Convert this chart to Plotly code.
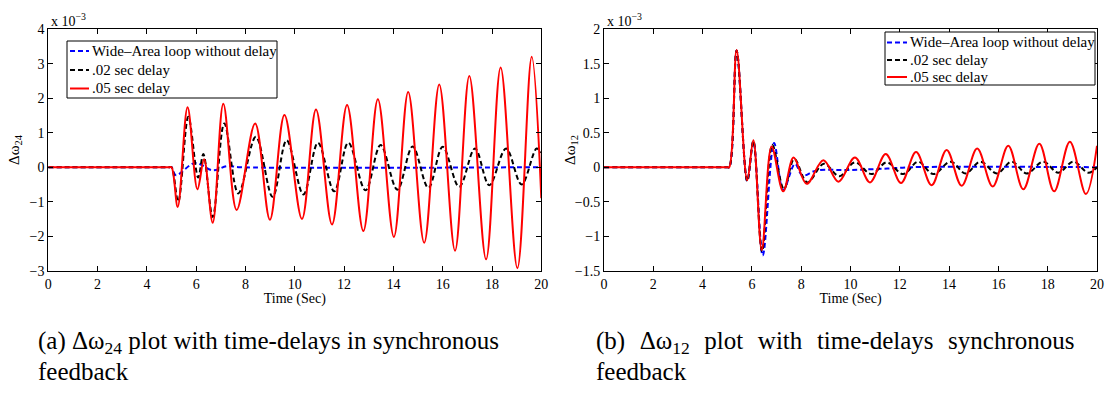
import plotly.graph_objects as go

# ---------------- data (values in units of 1e-3) ----------------
# (a) delta omega 24
t_nodelay_a = [0, 4.9, 5.0, 5.17, 5.95, 6.68, 7.25, 7.8, 20]
w_nodelay_a = [0, 0, 0, -0.23, 0.12, -0.09, 0.03, 0.0, 0.0]

t_d02_a = [0, 4.9, 5.0, 5.27, 5.68, 6.08, 6.29, 6.67, 7.14, 7.71, 8.42, 9.10, 9.67,
           10.35, 10.94, 11.6, 12.17, 12.87, 13.48, 14.16, 14.78, 15.42, 16.0,
           16.67, 17.31, 17.89, 18.57, 19.2, 19.81, 20]
w_d02_a = [0, 0, 0, -1.0, 1.46, -0.3, 0.38, -1.44, 1.27, -0.76, 0.88, -0.86, 0.78,
           -0.79, 0.71, -0.70, 0.71, -0.67, 0.64, -0.65, 0.60, -0.60, 0.59,
           -0.57, 0.54, -0.52, 0.54, -0.50, 0.54, 0.42]

t_d05_a = [0, 4.9, 5.0, 5.25, 5.65, 6.05, 6.32, 6.67, 7.1, 7.64, 8.39, 8.99, 9.58,
           10.29, 10.86, 11.51, 12.12, 12.78, 13.37, 14.02, 14.6, 15.25, 15.86,
           16.5, 17.08, 17.76, 18.35, 19.03, 19.61, 20]
w_d05_a = [0, 0, 0, -1.15, 1.74, -0.64, 0.23, -1.61, 1.84, -1.24, 1.27, -1.52, 1.51,
           -1.5, 1.67, -1.66, 1.80, -1.85, 1.97, -2.02, 2.18, -2.19, 2.40,
           -2.42, 2.64, -2.67, 2.89, -2.93, 3.20, -0.90]

# (b) delta omega 12
t_nodelay_b = [0, 4.98, 5.08, 5.38, 5.81, 6.06, 6.44, 6.90, 7.27, 7.75, 8.05, 8.6,
               10.0, 11.5, 12.5, 20]
w_nodelay_b = [0, 0, 0, 1.69, -0.2, 0.37, -1.28, 0.35, -0.33, 0.05, -0.12, -0.05,
               -0.04, -0.02, 0.0, 0.0]

t_d02_b = [0, 4.98, 5.08, 5.38, 5.81, 6.06, 6.41, 6.83, 7.3, 7.72, 8.25, 8.92, 9.55,
           10.18, 10.85, 11.47, 12.14, 12.75, 13.36, 14.06, 14.67, 15.27, 15.94,
           16.54, 17.15, 17.82, 18.43, 19.04, 19.65, 20]
w_d02_b = [0, 0, 0, 1.69, -0.2, 0.38, -1.22, 0.32, -0.32, 0.12, -0.22, 0.05, -0.13,
           0.07, -0.10, 0.07, -0.10, 0.08, -0.10, 0.08, -0.09, 0.08, -0.09,
           0.08, -0.09, 0.08, -0.08, 0.08, -0.08, 0.0]

t_d05_b = [0, 4.98, 5.08, 5.38, 5.81, 6.06, 6.40, 6.80, 7.27, 7.69, 8.22, 8.9, 9.51,
           10.18, 10.79, 11.43, 12.05, 12.66, 13.29, 13.9, 14.51, 15.14, 15.77,
           16.4, 17.01, 17.66, 18.26, 18.9, 19.55, 20]
w_d05_b = [0, 0, 0, 1.70, -0.19, 0.39, -1.20, 0.30, -0.35, 0.14, -0.24, 0.10, -0.21,
           0.14, -0.22, 0.19, -0.23, 0.22, -0.26, 0.25, -0.27, 0.27, -0.28,
           0.31, -0.32, 0.34, -0.35, 0.37, -0.39, 0.31]

names = ["Wide\u2013Area loop without delay", ".02 sec delay", ".05 sec delay"]
xticks = list(range(0, 21, 2))
yticks_a = [-3, -2, -1, 0, 1, 2, 3, 4]
yticks_b = [-1.5, -1, -0.5, 0, 0.5, 1, 1.5, 2]

FONT = "Liberation Serif"
W, H = 1106, 400

fig = go.Figure()

styles = [dict(color="#0000FF", width=2, dash="5px,3px"),
          dict(color="#000000", width=2, dash="5px,3px"),
          dict(color="#FF0000", width=2)]

sets_a = [(t_nodelay_a, w_nodelay_a), (t_d02_a, w_d02_a), (t_d05_a, w_d05_a)]
sets_b = [(t_nodelay_b, w_nodelay_b), (t_d02_b, w_d02_b), (t_d05_b, w_d05_b)]

for (t, w), st, nm in zip(sets_a, styles, names):
    fig.add_trace(go.Scatter(x=t, y=w, mode="lines", name=nm, showlegend=False,
                             line=dict(shape="spline", smoothing=1.0, **st),
                             xaxis="x", yaxis="y"))
for (t, w), st, nm in zip(sets_b, styles, names):
    fig.add_trace(go.Scatter(x=t, y=w, mode="lines", name=nm, showlegend=False,
                             line=dict(shape="spline", smoothing=1.0, **st),
                             xaxis="x2", yaxis="y2"))

ydom = [1 - 270.7 / H, 1 - 29.2 / H]
axcommon = dict(showline=True, linecolor="black", linewidth=1, mirror="ticks",
                ticks="inside", ticklen=5, tickcolor="black", showgrid=False,
                zeroline=False, tickfont=dict(family=FONT, size=14, color="black"),
                automargin=False)

fig.update_layout(
    width=W, height=H,
    margin=dict(l=0, r=0, t=0, b=0),
    paper_bgcolor="white", plot_bgcolor="white",
    font=dict(family=FONT, color="black"),
    xaxis=dict(domain=[48.3 / W, 541.3 / W], range=[0, 20], tickvals=xticks,
               title=dict(text="Time (Sec)", font=dict(size=14), standoff=0),
               anchor="y", **axcommon),
    yaxis=dict(domain=ydom, range=[-3, 4], tickvals=yticks_a, anchor="x", **axcommon),
    xaxis2=dict(domain=[604 / W, 1097 / W], range=[0, 20], tickvals=xticks,
                title=dict(text="Time (Sec)", font=dict(size=14), standoff=0),
                anchor="y2", **axcommon),
    yaxis2=dict(domain=ydom, range=[-1.5, 2], tickvals=yticks_b, anchor="x2", **axcommon),
    showlegend=False,
)

ann = []
shapes = []


def px(x):
    return x / W


def py(y):
    return 1 - y / H


# y-axis labels
for xc, lab in [(15, "\u0394\u03c9<sub>24</sub>"), (571, "\u0394\u03c9<sub>12</sub>")]:
    ann.append(dict(x=px(xc), y=py(150), xref="paper", yref="paper", xanchor="center",
                    yanchor="middle", showarrow=False, text=lab, textangle=-90,
                    font=dict(family=FONT, size=15, color="black")))

# exponent labels
for xl in (49, 605):
    ann.append(dict(x=px(xl), y=py(20), xref="paper", yref="paper", xanchor="left",
                    yanchor="middle", showarrow=False, text="x 10<sup>\u22123</sup>",
                    font=dict(family=FONT, size=14, color="black")))

# legends (box, line samples, labels)
legends = [
    dict(box=(67, 41, 277, 98), rows=[51, 70, 88.5], line=(70, 89), text_x=90),
    dict(box=(885, 32, 1095, 85), rows=[42.5, 60, 77], line=(887, 907), text_x=908),
]
for lg in legends:
    x0, y0, x1, y1 = lg["box"]
    shapes.append(dict(type="rect", xref="paper", yref="paper",
                       x0=px(x0), x1=px(x1), y0=py(y1), y1=py(y0),
                       line=dict(color="black", width=1), fillcolor="white", layer="above"))
    for yr, st, nm in zip(lg["rows"], styles, names):
        shapes.append(dict(type="line", xref="paper", yref="paper",
                           x0=px(lg["line"][0]), x1=px(lg["line"][1]), y0=py(yr), y1=py(yr),
                           line=dict(color=st["color"], width=2,
                                     dash=st.get("dash", "solid")), layer="above"))
        ann.append(dict(x=px(lg["text_x"]), y=py(yr), xref="paper", yref="paper",
                        xanchor="left", yanchor="middle", showarrow=False, text=nm,
                        font=dict(family=FONT, size=15, color="black")))

# captions
capfont = dict(family=FONT, size=25, color="black")
gap = " \u00a0\u200a"
cap_a = "(a) \u0394\u03c9<sub>24</sub> plot with time-delays in synchronous"
cap_b = gap.join(["(b)", "\u0394\u03c9<sub>12</sub>", "plot", "with", "time-delays",
                  "synchronous"])
for xl, txt in [(36, cap_a), (594, cap_b)]:
    ann.append(dict(x=px(xl), y=py(342), xref="paper", yref="paper", xanchor="left",
                    yanchor="middle", showarrow=False, font=capfont, text=txt))
    ann.append(dict(x=px(xl), y=py(371), xref="paper", yref="paper", xanchor="left",
                    yanchor="middle", showarrow=False, font=capfont, text="feedback"))

fig.update_layout(annotations=ann, shapes=shapes)

fig.write_html("out.html")
